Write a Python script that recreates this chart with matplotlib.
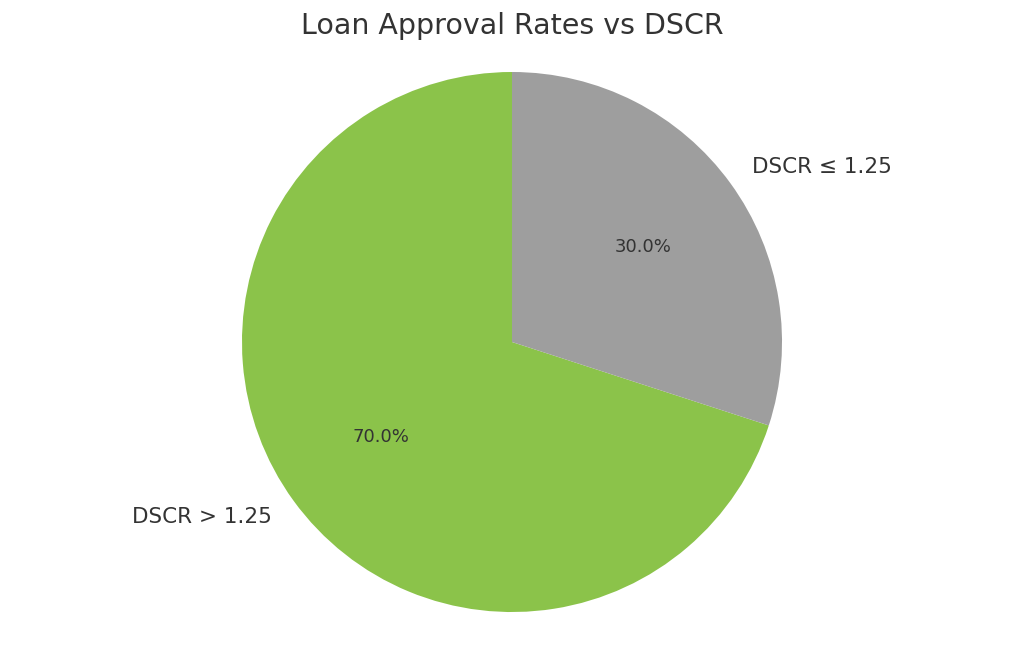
import matplotlib.pyplot as plt

labels = ['DSCR > 1.25', 'DSCR \u2264 1.25']
shares = [70, 30]
colors = ['#8bc34a', '#9e9e9e']

fig = plt.figure(figsize=(10.24, 6.53), dpi=100)
ax = fig.add_axes([0.0, 0.0214, 1.0, 0.9097])

wedges, texts, autotexts = ax.pie(shares, labels=labels, colors=colors,
                                  autopct='%1.1f%%', startangle=90,
                                  labeldistance=1.1, pctdistance=0.6,
                                  textprops={'fontsize': 15.5, 'color': '#333333'})
for t in autotexts:
    t.set_fontsize(13)
ax.axis('equal')
fig.suptitle('Loan Approval Rates vs DSCR', fontsize=20.5, color='#333333', y=0.981)

fig.savefig('out.png', dpi=100)
